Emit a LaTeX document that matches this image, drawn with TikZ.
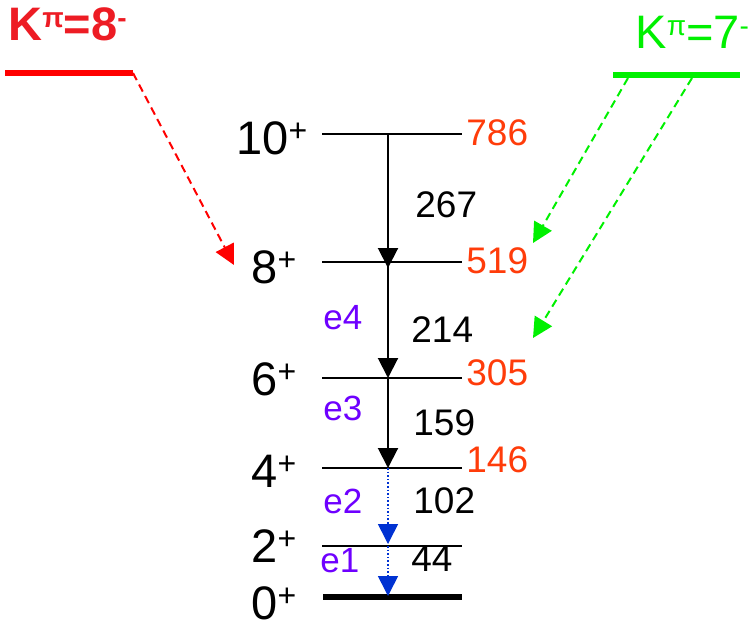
\documentclass[tikz,border=0pt]{standalone}
\usepackage{fontspec}
\setmainfont{Liberation Sans}
\usepackage{xcolor}
\usetikzlibrary{arrows.meta}
\definecolor{kred}{RGB}{237,28,36}
\definecolor{kgreen}{RGB}{0,240,0}
\definecolor{enred}{RGB}{255,60,10}
\definecolor{evio}{RGB}{110,0,255}
\definecolor{eblue}{RGB}{0,50,210}
\newcommand{\upsc}[1]{\raisebox{6.5pt}{\fontsize{16}{16}\selectfont #1}}
\newcommand{\kupsc}[1]{\raisebox{6.5pt}{\fontsize{14}{14}\selectfont #1}}

\begin{document}
\begin{tikzpicture}[x=0.5pt,y=-0.5pt,line join=round,
    lvl/.style={line width=1pt},
    spin/.style={anchor=base west,inner sep=0pt,font=\fontsize{23.5}{28}\selectfont},
    energy/.style={anchor=base west,inner sep=0pt,text=enred,font=\fontsize{18.5}{22}\selectfont},
    gam/.style={anchor=base west,inner sep=0pt,font=\fontsize{18.5}{22}\selectfont},
    elab/.style={anchor=base west,inner sep=0pt,text=evio,font=\fontsize{17.5}{20}\selectfont},
    trans/.style={-{Triangle[length=10pt,width=10pt]},line width=1pt},
    conv/.style={-{Triangle[length=10pt,width=10pt]},line width=0.8pt,eblue,dash pattern=on 0.8pt off 1pt},
    feed/.style={-{Triangle[length=10pt,width=10pt]},line width=1pt,dash pattern=on 4pt off 2.5pt}]
  \useasboundingbox (0,0) rectangle (749,622);
  % ground band levels
  \coordinate (L10a) at (322,134); \coordinate (L10b) at (462,134);
  \coordinate (L8a) at (322,262);  \coordinate (L8b) at (462,262);
  \coordinate (L6a) at (322,378);  \coordinate (L6b) at (462,378);
  \coordinate (L4a) at (322,468);  \coordinate (L4b) at (462,468);
  \coordinate (L2a) at (322,546);  \coordinate (L2b) at (462,546);
  \coordinate (L0a) at (323,597);  \coordinate (L0b) at (462,597);
  \draw[lvl] (L10a) -- (L10b);
  \draw[lvl] (L8a) -- (L8b);
  \draw[lvl] (L6a) -- (L6b);
  \draw[lvl] (L4a) -- (L4b);
  \draw[lvl] (L2a) -- (L2b);
  \draw[line width=3pt] (L0a) -- (L0b);
  % points on the cascade
  \coordinate (T10) at (388,134);
  \coordinate (T8) at (388,262);
  \coordinate (T6) at (388,378);
  \coordinate (T4) at (388,468);
  \coordinate (T2) at (388,546);
  \coordinate (T0) at (388,596);
  \draw[trans] (T10) -- ([yshift=-3pt]T8);
  \draw[trans] (T8) -- (T6);
  \draw[trans] (T6) -- (T4);
  \draw[conv] (T4) -- ([yshift=1pt]T2);
  \draw[conv] (T2) -- (T0);
  % spins
  \node[spin] (s10) at (236,154) {10\upsc{+}};
  \node[spin] (s8) at (251,283) {8\upsc{+}};
  \node[spin] (s6) at (251,395) {6\upsc{+}};
  \node[spin] (s4) at (251,487) {4\upsc{+}};
  \node[spin] (s2) at (251,562) {2\upsc{+}};
  \node[spin] (s0) at (251,619) {0\upsc{+}};
  % level energies
  \node[energy] (e786) at (466,145) {786};
  \node[energy] (e519) at (466,273) {519};
  \node[energy] (e305) at (466,385) {305};
  \node[energy] (e146) at (466,472) {146};
  % gamma energies
  \node[gam] (g267) at (415,217) {267};
  \node[gam] (g214) at (411,342) {214};
  \node[gam] (g159) at (413,435) {159};
  \node[gam] (g102) at (413,513) {102};
  \node[gam] (g44) at (411,571) {44};
  \node[elab] (x4) at (323,329) {e4};
  \node[elab] (x3) at (323,420) {e3};
  \node[elab] (x2) at (323,513) {e2};
  \node[elab] (x1) at (320,572) {e1};
  % K=8- band
  \coordinate (R0) at (5,73); \coordinate (R1) at (133,73);
  \coordinate (R8) at (234,265);
  \draw[red,line width=3pt] (R0) -- (R1);
  \draw[feed,red] (R1) -- (R8);
  \node[anchor=base west,inner sep=0pt,text=kred,font=\bfseries\fontsize{23.5}{28}\selectfont] (k8) at (8,40) {K\kupsc{π}=8\kupsc{-}};
  % K=7- band
  \coordinate (G0) at (613,75); \coordinate (G1) at (740,75);
  \coordinate (G2) at (628,78); \coordinate (G3) at (692,78);
  \coordinate (G8) at (533,243); \coordinate (G6) at (533,338);
  \draw[kgreen,line width=3pt] (G0) -- (G1);
  \draw[feed,kgreen] (G2) -- (G8);
  \draw[feed,kgreen] (G3) -- (G6);
  \node[anchor=base west,inner sep=0pt,text=kgreen,font=\fontsize{23.5}{28}\selectfont] (k7) at (635,48) {K\kupsc{π}=7\kupsc{-}};
\end{tikzpicture}
\end{document}
